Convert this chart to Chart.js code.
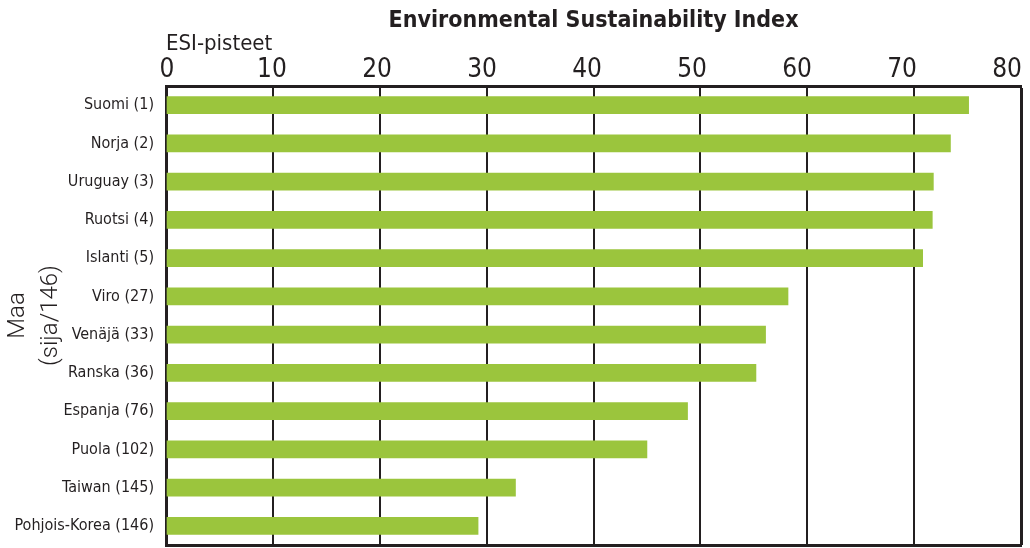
<!DOCTYPE html>
<html><head><meta charset="utf-8">
<script src="https://cdn.jsdelivr.net/npm/chart.js@4"></script>
<style>html,body{margin:0;padding:0;background:#fff}#wrap{width:1030px;height:548px;position:relative}</style>
</head><body><div id="wrap"><canvas id="c"></canvas></div>
<script>
const categories = ['Suomi (1)', 'Norja (2)', 'Uruguay (3)', 'Ruotsi (4)', 'Islanti (5)', 'Viro (27)', 'Venäjä (33)', 'Ranska (36)', 'Espanja (76)', 'Puola (102)', 'Taiwan (145)', 'Pohjois-Korea (146)'];
const esiScores = [75.1, 73.4, 71.8, 71.7, 70.8, 58.2, 56.1, 55.2, 48.8, 45.0, 32.7, 29.2];
const tickValues = [0, 10, 20, 30, 40, 50, 60, 70, 80];
const chartTitle = 'Environmental Sustainability Index';
const xAxisTitle = 'ESI-pisteet';
const yAxisTitle = ['Maa', '(sija/146)'];

const DARK = '#231f20';
const NARROW = "'Liberation Sans Narrow', 'DejaVu Sans Condensed', sans-serif";

new Chart(document.getElementById('c'), {
  type: 'bar',
  data: {
    labels: categories,
    datasets: [{ data: esiScores, backgroundColor: '#9bc53d', barThickness: 17, xAxisID: 'x', yAxisID: 'y' }]
  },
  options: {
    indexAxis: 'y',
    responsive: true,
    maintainAspectRatio: false,
    animation: false,
    layout: { padding: { left: 0, right: 9, top: 0, bottom: 0 }, autoPadding: false },
    plugins: {
      legend: { display: false },
      tooltip: { enabled: false },
      title: {
        display: true, text: chartTitle, fullSize: false, color: DARK,
        font: { family: NARROW, size: 23, weight: 'bold', lineHeight: 1 },
        padding: { top: 10, bottom: 0 }
      }
    },
    scales: {
      x: {
        type: 'linear', position: 'top', min: 0, max: 80, weight: 0,
        grid: { color: DARK, lineWidth: (c) => (c.tick && c.tick.value === 80 ? 3 : 2), drawTicks: false },
        border: { color: DARK, width: 3 },
        ticks: { display: false, stepSize: 10 },
        afterFit: (s) => { s.height = 0; }
      },
      xt: {
        type: 'linear', position: 'top', min: -0.095, max: 81.33, weight: 1,
        grid: { display: false, drawTicks: false },
        border: { display: false },
        afterBuildTicks: (s) => { s.ticks = tickValues.map(v => ({ value: v })); },
        ticks: { color: DARK, font: { family: NARROW, size: 26 }, padding: 0, maxRotation: 0, autoSkip: false },
        title: {
          display: true, text: xAxisTitle, align: 'start', color: DARK,
          font: { family: NARROW, size: 22, lineHeight: 1 }, padding: { top: 0, bottom: 0 }
        },
        afterFit: (s) => { s.height = 53; }
      },
      xb: {
        type: 'linear', position: 'bottom', min: 0, max: 80,
        grid: { display: false, drawTicks: false },
        border: { color: DARK, width: 3 },
        ticks: { display: false },
        afterFit: (s) => { s.height = 3; }
      },
      y: {
        position: 'left',
        grid: { display: false, drawTicks: false },
        border: { color: DARK, width: 3 },
        ticks: { color: DARK, font: { family: NARROW, size: 16 }, padding: 12, autoSkip: false },
        title: {
          display: true, text: yAxisTitle, color: DARK,
          font: { family: 'Roboto', size: 24, weight: 300, lineHeight: 1.35 },
          padding: { top: 2, bottom: 0 }
        },
        afterFit: (s) => { s.width = 166; s.paddingTop = 0; s.paddingBottom = 0; }
      }
    }
  }
});
</script>
</body></html>
